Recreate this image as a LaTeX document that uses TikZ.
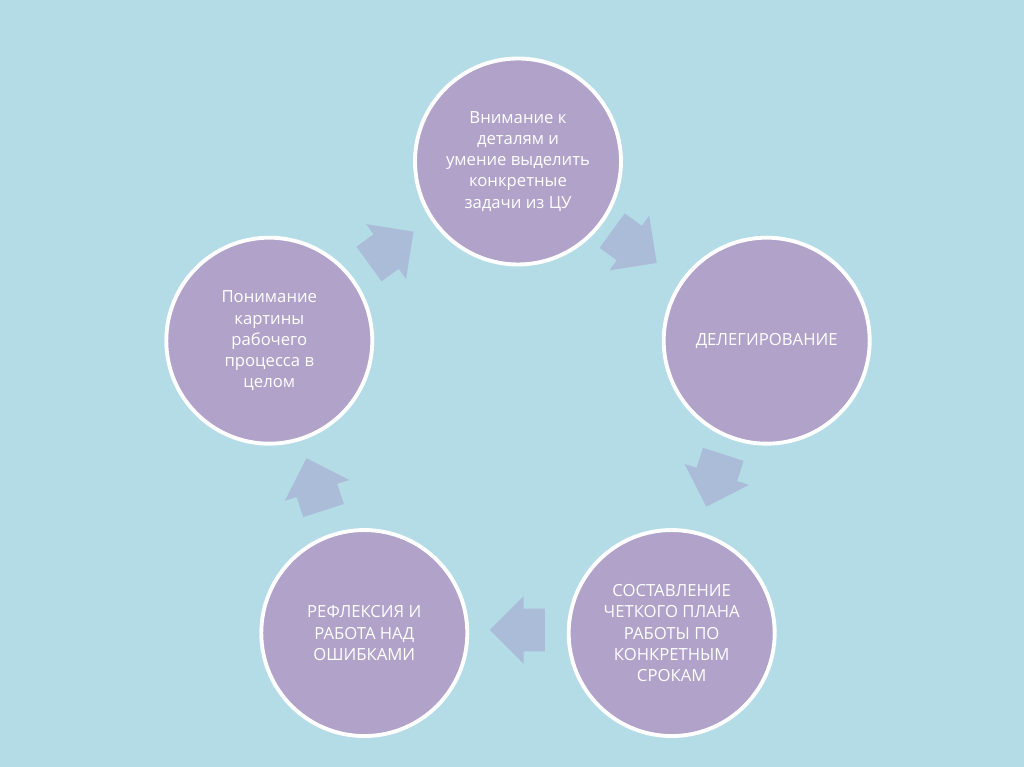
\documentclass[tikz,border=0pt]{standalone}
\usepackage{fontspec}
\setmainfont{Open Sans}
\usetikzlibrary{shapes.arrows,calc}
\definecolor{bgblue}{RGB}{180,220,230}
\definecolor{stagefill}{RGB}{176,162,200}
\definecolor{arrowfill}{RGB}{170,188,216}
\tikzset{
  stage/.style={circle, draw=white, line width=2.2pt, fill=stagefill,
    minimum size=4.12cm, align=center, text=white,
    font=\fontsize{9.5}{12}\selectfont},
  flow/.style={single arrow, fill=arrowfill, draw=none,
    inner xsep=0pt, inner ysep=0.42cm,
    minimum width=1.34cm, minimum height=1.1cm,
    single arrow head extend=0.25cm, single arrow tip angle=90}
}
\begin{document}
\begin{tikzpicture}
  \useasboundingbox[fill=bgblue] (-10.36,-6.91) rectangle (10.12,8.43);
  \node[stage] (detail) at (90:5.2) {Внимание к\\деталям и\\умение выделить\\конкретные\\задачи из ЦУ};
  \node[stage] (deleg) at (18:5.23) {ДЕЛЕГИРОВАНИЕ};
  \node[stage] (plan) at (-54:5.23) {СОСТАВЛЕНИЕ\\ЧЕТКОГО ПЛАНА\\РАБОТЫ ПО\\КОНКРЕТНЫМ\\СРОКАМ};
  \node[stage] (reflex) at (-126:5.23) {РЕФЛЕКСИЯ И\\РАБОТА НАД\\ОШИБКАМИ};
  \node[stage] (whole) at (162:5.23) {Понимание\\картины\\рабочего\\процесса в\\целом};
  % arrows between the stages
  \foreach \a/\r/\d [count=\i] in {56.5/4.2/-36, -16.5/4.11/-108, -90/4.17/180, 197.4/4.25/108, 126.3/4.3/36}{
    \node[flow, rotate=\d] (step\i) at ($(\a:\r)+(\d:-0.2)$) {};
  }
\end{tikzpicture}
\end{document}
